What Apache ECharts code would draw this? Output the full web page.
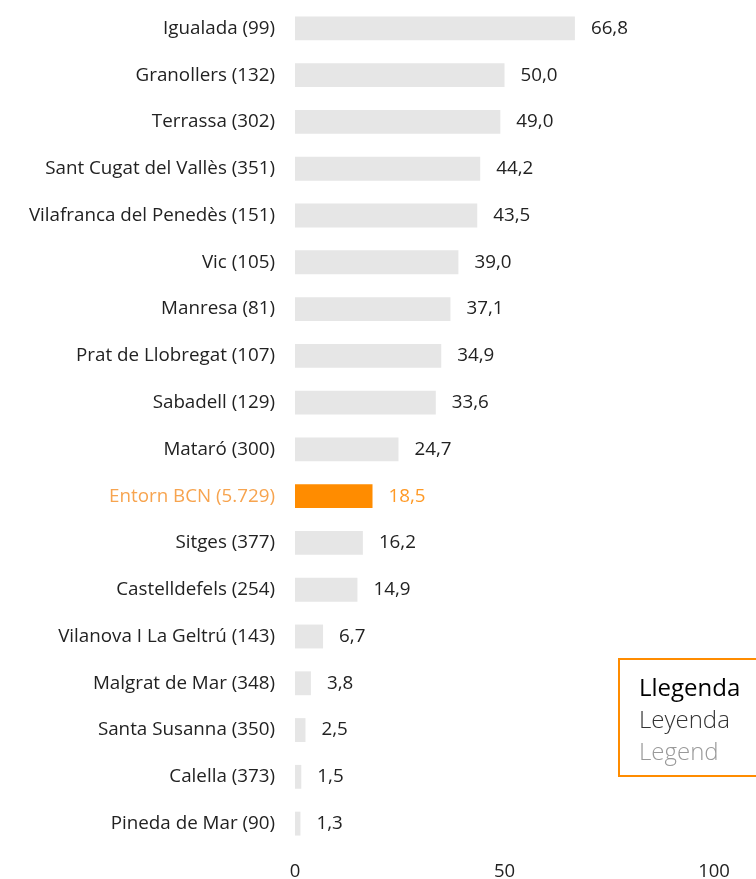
<!DOCTYPE html>
<html><head><meta charset="utf-8">
<script src="https://cdn.jsdelivr.net/npm/echarts@6/dist/echarts.min.js"></script>
<style>html,body{margin:0;padding:0;background:#fff}#c{width:756px;height:879px}</style>
</head><body><div id="c"></div>
<script>
const categories = ["Igualada (99)","Granollers (132)","Terrassa (302)","Sant Cugat del Vallès (351)","Vilafranca del Penedès (151)","Vic (105)","Manresa (81)","Prat de Llobregat (107)","Sabadell (129)","Mataró (300)","Entorn BCN (5.729)","Sitges (377)","Castelldefels (254)","Vilanova I La Geltrú (143)","Malgrat de Mar (348)","Santa Susanna (350)","Calella (373)","Pineda de Mar (90)"];
const values = [66.8,50.0,49.0,44.2,43.5,39.0,37.1,34.9,33.6,24.7,18.5,16.2,14.9,6.7,3.8,2.5,1.5,1.3];
const highlight = "Entorn BCN (5.729)";
const axisTicks = [0,50,100];
const legendLines = ["Llegenda","Leyenda","Legend"];

const FONT = "Open Sans";
const chart = echarts.init(document.getElementById('c'));
chart.setOption({
  animation:false,
  grid:{left:295,right:42,top:5,bottom:32,containLabel:false,outerBoundsMode:'none'},
  xAxis:{type:'value',min:axisTicks[0],max:axisTicks[axisTicks.length-1],interval:axisTicks[1]-axisTicks[0],
    axisLine:{show:false},axisTick:{show:false},splitLine:{show:false},
    axisLabel:{fontFamily:FONT,fontSize:18.5,color:'#222',margin:15}},
  yAxis:{type:'category',data:categories,inverse:true,
    axisLine:{show:false},axisTick:{show:false},
    axisLabel:{fontFamily:FONT,fontSize:18.8,margin:20,
      color:(v)=> v===highlight ? '#F7A44F' : '#222'}},
  series:[{type:'bar',barCategoryGap:'49%',
    data:values.map((v,i)=>({value:v,itemStyle:{color:categories[i]===highlight?'#FF8C00':'#E6E6E6'},
      label:{color:categories[i]===highlight?'#FF9A26':'#222'}})),
    label:{show:true,position:'right',distance:16,fontFamily:FONT,fontSize:18.8,
      formatter:(p)=>p.value.toFixed(1).replace('.',',')}}],
  graphic:[
    {type:'rect',shape:{x:619,y:659,width:160,height:117},style:{fill:'none',stroke:'#FF8C00',lineWidth:2}},
    {type:'text',x:639,y:689,style:{text:legendLines[0],fontFamily:FONT,fontSize:24,fill:'#000',textVerticalAlign:'middle'}},
    {type:'text',x:639,y:721,style:{text:legendLines[1],fontFamily:FONT,fontSize:24,fontWeight:300,fill:'#333',textVerticalAlign:'middle'}},
    {type:'text',x:639,y:753,style:{text:legendLines[2],fontFamily:FONT,fontSize:24,fontWeight:300,fill:'#999',textVerticalAlign:'middle'}}
  ]
});
</script></body></html>
